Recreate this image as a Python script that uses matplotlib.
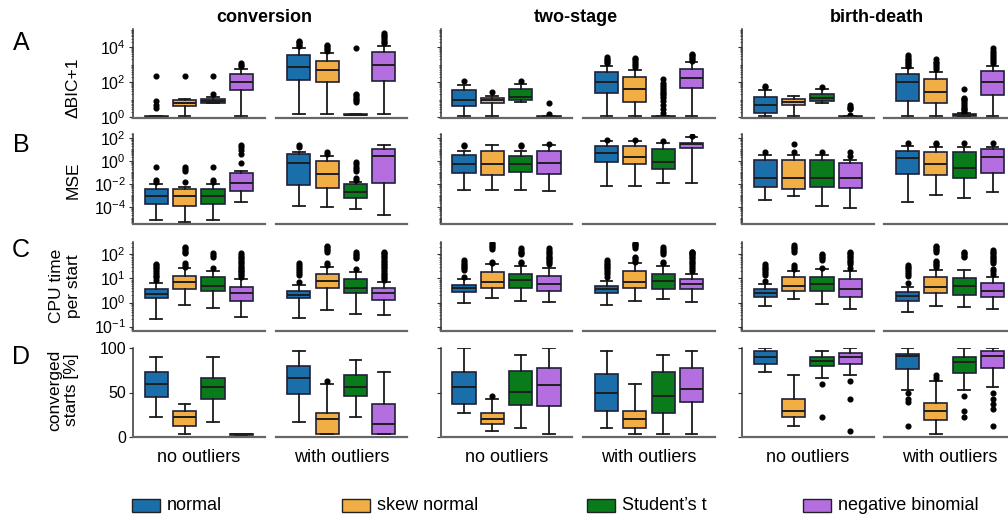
from __future__ import annotations

import matplotlib

matplotlib.use("Agg")
import matplotlib.pyplot as plt
from matplotlib.patches import Rectangle
from matplotlib.ticker import FixedLocator, LogFormatterSciNotation, LogLocator, NullFormatter

plt.rcParams["font.family"] = ["Liberation Sans", "DejaVu Sans"]
plt.rcParams["mathtext.fontset"] = "custom"
plt.rcParams["mathtext.rm"] = "Liberation Sans"
plt.rcParams["mathtext.it"] = "Liberation Sans:italic"
plt.rcParams["mathtext.bf"] = "Liberation Sans:bold"

models = ["conversion", "two-stage", "birth-death"]
scenarios = ["no outliers", "with outliers"]
distributions = ["normal", "skew normal", "Student\u2019s t", "negative binomial"]
colors = ["#1a6fab", "#f0ae45", "#097b1b", "#b56ee0"]

# panel order: conv/no, conv/with, two/no, two/with, bd/no, bd/with
# each box: (whislo, q1, med, q3, whishi)
bic_stats = [
    [(1.0, 1.0, 1.05, 1.1, 1.15), (1.1, 4.4, 6.8, 9.1, 11), (6.5, 6.8, 8.5, 11, 15), (1.1, 34, 104, 307, 590)],
    [(1.5, 140, 700, 3300, 8700), (1.5, 105, 470, 1660, 4500), (1.3, 1.3, 1.4, 1.5, 1.6), (1.5, 123, 1000, 5100, 12000)],
    [(1.1, 4.4, 9.5, 37, 73), (1.1, 6.4, 9, 11.8, 17), (7.4, 9.5, 14, 42, 80), (1.0, 1.0, 1.05, 1.1, 1.15)],
    [(1.1, 23, 104, 380, 870), (1.1, 7.3, 42, 200, 490), (1.0, 1.0, 1.05, 1.1, 1.15), (1.1, 48, 174, 590, 1320)],
    [(1.1, 1.7, 5.2, 15, 35), (1.1, 5.2, 7.4, 10.4, 15.4), (6.4, 8.3, 13, 22, 38), (1.0, 1.0, 1.05, 1.1, 1.15)],
    [(1.1, 8.3, 104, 307, 640), (1.1, 6.2, 28, 153, 380), (1.05, 1.1, 1.3, 1.5, 1.8), (1.1, 18, 104, 410, 870)],
]
bic_fliers = [
    [[3.5, 5, 8, 230], [235], [22, 235], [800, 1000, 1300]],
    [[11000, 13000, 16000, 19000, 22000], [6000, 7500, 9000, 11000, 12500], [7, 9, 11, 14, 18, 22, 8700],
     [16000, 20000, 26000, 33000, 40000, 50000, 60000]],
    [[112], [27], [112], [1.6, 6.8]],
    [[1230, 1500, 1800, 2200, 2700], [700, 900, 1200, 1600, 2000, 2300],
     [1.8, 3, 5, 8, 12, 16, 20, 25, 30, 40, 50, 70, 90, 150], [1700, 2000, 2400, 3000, 3500, 4000]],
    [[50, 64], [], [51], [1.4, 2.8, 3.3, 4, 5.2]],
    [[800, 1000, 1200, 1500, 1800, 2200, 2800, 3600], [550, 700, 900, 1200, 1500, 2000],
     [2, 2.5, 3, 3.5, 4.5, 6, 7.5, 9, 11, 13, 38], [1200, 1600, 2100, 2800, 3600, 4500, 6000, 8700]],
]

mse_stats = [
    [(7.7e-6, 1.9e-4, 8.5e-4, 3.3e-3, 9e-3), (4.8e-6, 1.07e-4, 8e-4, 3.3e-3, 5.6e-3),
     (7.7e-6, 1.9e-4, 8e-4, 3.3e-3, 9e-3), (2.7e-4, 2.3e-3, 0.011, 0.083, 0.14)],
    [(1.1e-4, 7.9e-3, 0.71, 3.9, 6.5), (1e-4, 4.6e-3, 0.072, 1.0, 2.7),
     (7e-5, 5.4e-4, 2e-3, 9.1e-3, 0.015), (1.8e-5, 0.011, 2.7, 10.7, 25)],
    [(2.9e-3, 0.095, 0.55, 3.4, 7.5), (2.9e-3, 0.059, 0.55, 8, 22),
     (2.9e-3, 0.115, 0.51, 2.9, 7.5), (2.3e-3, 0.072, 0.63, 8, 25)],
    [(6.4e-3, 0.87, 4.7, 21, 49), (6.4e-3, 0.55, 2.1, 18, 49),
     (0.011, 0.2, 0.76, 10.7, 36), (0.0126, 13, 29, 40, 110)],
    [(3.8e-4, 5.6e-3, 0.03, 1.2, 3.2), (8.5e-4, 3.7e-3, 0.03, 1.2, 3.2),
     (1.2e-4, 5.6e-3, 0.03, 1.2, 3.2), (8.7e-5, 4.6e-3, 0.03, 0.63, 1.2)],
    [(2.7e-4, 0.068, 1.9, 8, 21), (1e-3, 0.055, 0.51, 5.4, 16),
     (5.4e-4, 0.03, 0.26, 5.4, 16), (2e-3, 0.083, 2.4, 10.7, 17)],
]
mse_fliers = [
    [[0.015, 0.021, 0.32], [0.015, 0.13, 0.2, 0.32], [0.014, 0.021, 0.28], [0.63, 3.9, 9.2, 16, 25]],
    [[16, 22], [4, 6.5], [0.021, 0.032, 0.14, 0.2, 0.3, 0.5, 0.87], []],
    [[18, 25], [], [18, 25], [30]],
    [[62], [62], [50], [140]],
    [[5.4], [6.5, 31], [5.4], [2.7, 6.5]],
    [[40], [28, 40], [40], [40]],
]

cpu_stats = [
    [(0.21, 1.6, 2.2, 3.6, 6.3), (0.8, 3.6, 6.9, 13, 26), (0.58, 3, 4.9, 11, 20), (0.25, 1.2, 2.6, 4.6, 9.1)],
    [(0.22, 1.5, 2.05, 3.1, 5.4), (0.49, 3.9, 7.7, 15, 31), (0.32, 2.6, 4.2, 9.1, 19), (0.3, 1.26, 2.4, 3.9, 7.4)],
    [(0.93, 2.7, 3.9, 5.4, 9.1), (1.6, 3.9, 6.9, 18, 39), (1.2, 4.2, 8.5, 16, 34), (1.05, 3, 5.7, 13, 28)],
    [(0.8, 2.6, 3.6, 4.9, 7.7), (1.15, 3.9, 6.9, 20, 42), (1.35, 3.6, 7.7, 16, 34), (1.02, 3.55, 5.9, 9.1, 16)],
    [(0.72, 1.66, 2.6, 3.5, 5.7), (1.45, 3, 4.9, 11, 21), (0.85, 3, 5.7, 11, 24), (0.56, 1.75, 3.5, 9.5, 20)],
    [(0.42, 1.2, 1.8, 2.8, 4.6), (0.74, 2.6, 4.3, 11, 22), (0.63, 2.05, 4.9, 10.7, 22), (0.52, 1.66, 3, 6.3, 12)],
]
cpu_fliers = [
    [[9, 11, 13, 16, 19, 22, 26, 30, 35, 40], [30, 35, 42, 110, 130, 150, 175, 200], [28, 75, 90, 110],
     [12, 14, 16, 18, 20, 23, 27, 31, 35, 42, 50, 60, 70, 80, 90, 110]],
    [[7.3, 14, 17, 20, 24, 30, 36, 44], [37, 42, 130, 150, 170, 195, 220], [24, 70, 80, 90, 105, 120],
     [9, 10.5, 12, 14, 16, 19, 22, 26, 30, 35, 40, 47, 55, 65, 75, 87, 100, 115, 130]],
    [[12, 22, 26, 30, 35, 40, 48, 58], [45, 50, 170, 200, 230, 265, 300], [45, 50, 100, 115, 130, 155, 180],
     [40, 48, 55, 62, 70, 80, 90, 110, 130, 155, 180]],
    [[12, 15, 18, 22, 26, 30, 35, 40, 48, 58], [50, 60, 70, 80, 190, 220, 250, 280, 300],
     [45, 50, 100, 120, 140, 170, 200], [20, 25, 30, 35, 42, 50, 60, 70, 80, 90, 100, 110, 120, 130]],
    [[7.5, 14, 17, 20, 24, 28, 34, 40], [25, 30, 35, 130, 155, 180, 210, 240], [28, 60, 70, 80, 90, 100],
     [26, 40, 47, 55, 65, 75, 87, 100, 115, 130]],
    [[6.3, 13, 15.5, 18, 22, 26, 31, 37], [30, 35, 40, 47, 55, 120, 145, 170, 195, 220], [75, 87, 100, 115, 130],
     [16, 20, 24, 45, 52, 60, 70, 80, 95, 110, 130, 150]],
]

conv_stats = [
    [(22.8, 44.4, 59.4, 73, 90), (3, 12.7, 22.8, 29.5, 36.6), (16.4, 42.2, 56.3, 66.8, 90), (2.5, 2.7, 3, 3.2, 3.4)],
    [(16.4, 48, 66.4, 79.5, 96.3), (3, 3, 19.8, 26.5, 60), (22.8, 45.9, 56.3, 70.2, 86.2), (3, 3, 14.6, 36.6, 73.1)],
    [(26.5, 36.6, 56.3, 73.1, 100), (6.7, 14.6, 19.8, 26.5, 42.5), (9.7, 35.8, 50.7, 74.2, 92.6), (3, 34.7, 58.2, 78, 100)],
    [(9.7, 29.5, 49.6, 71.3, 96.3), (3, 9.7, 19.8, 29.5, 60), (3, 26.5, 46.3, 73.1, 92.6), (3, 39.6, 53.4, 78, 96.3)],
    [(73.1, 82.5, 90, 96.3, 100), (12.7, 22.8, 29.5, 42.5, 69.4), (66.4, 79.5, 85.1, 90, 96.3), (69.4, 82.5, 90, 94.8, 100)],
    [(52.6, 76.1, 90.7, 93.7, 100), (3, 19, 29.5, 37.7, 62.7), (52.6, 72.4, 84.3, 90, 100), (56.3, 77.6, 91, 96.3, 100)],
]
conv_fliers = [
    [[], [], [], []],
    [[], [63], [], []],
    [[], [46.3], [], []],
    [[], [], [], []],
    [[], [], [59.4, 22.8], [62.7, 42.5, 6.7]],
    [[48.9, 42.5, 38.8, 12.7], [66.4, 69.4], [46.3, 29.5, 22.8], [48.9, 42.8, 37, 32, 12.7]],
]

FIG_W, FIG_H = 1008, 517
AX_LEFT = [133, 275.6, 440.7, 583.3, 742, 884.3]
AX_WIDTH = 131.5
ROW_TOP = [29, 134, 242, 348]
ROW_BOTTOM = [118, 224, 331, 437]


def fx(px: float) -> float:
    return px / FIG_W


def fy(px: float) -> float:
    return 1 - px / FIG_H


def draw_boxes(ax: plt.Axes, stats: list, fliers: list) -> None:
    boxes = [
        {"whislo": s[0], "q1": s[1], "med": s[2], "q3": s[3], "whishi": s[4], "fliers": f}
        for s, f in zip(stats, fliers)
    ]
    res = ax.bxp(
        boxes,
        positions=[1, 2, 3, 4],
        widths=0.82,
        patch_artist=True,
        showfliers=True,
        boxprops=dict(edgecolor="#20203a", linewidth=1.2),
        medianprops=dict(color="#1e1e1e", linewidth=1.4),
        whiskerprops=dict(color="#1a1a1a", linewidth=1.3),
        capprops=dict(color="#1a1a1a", linewidth=1.3),
        flierprops=dict(marker="o", markerfacecolor="black", markeredgecolor="black",
                        markersize=3.4, linestyle="none"),
    )
    for patch, color in zip(res["boxes"], colors):
        patch.set_facecolor(color)


rows = [
    ("\u0394BIC+1", bic_stats, bic_fliers, "log", (0.9, 1.07e5), [1, 1e2, 1e4]),
    ("MSE", mse_stats, mse_fliers, "log", (3.2e-6, 2.2e2), [1e-4, 1e-2, 1, 1e2]),
    ("CPU time\nper start", cpu_stats, cpu_fliers, "log", (0.066, 324), [0.1, 1, 10, 100]),
    ("converged\nstarts [%]", conv_stats, conv_fliers, "linear", (0, 100), [0, 50, 100]),
]

fig = plt.figure(figsize=(FIG_W / 100, FIG_H / 100), dpi=100)

for r, (ylabel, stats, fliers, scale, ylim, ticks) in enumerate(rows):
    height = ROW_BOTTOM[r] - ROW_TOP[r]
    for c in range(6):
        ax = fig.add_axes([fx(AX_LEFT[c]), fy(ROW_BOTTOM[r]), fx(AX_WIDTH), height / FIG_H])
        ax.set_yscale(scale)
        draw_boxes(ax, stats[c], fliers[c])
        ax.set_xlim(0.18, 4.82)
        ax.set_ylim(*ylim)
        ax.yaxis.set_major_locator(FixedLocator(ticks))
        if scale == "log":
            ax.yaxis.set_major_formatter(LogFormatterSciNotation())
            ax.yaxis.set_minor_locator(LogLocator(base=10, subs=[1, 2, 3, 4, 5, 6, 7, 8, 9], numticks=40))
            ax.yaxis.set_minor_formatter(NullFormatter())
        for side in ["top", "right"]:
            ax.spines[side].set_visible(False)
        ax.spines["bottom"].set_color("#666666")
        ax.spines["bottom"].set_linewidth(1.6)
        ax.tick_params(axis="x", bottom=False, labelbottom=False)
        if c % 2 == 0:
            ax.spines["left"].set_color("#333333")
            ax.spines["left"].set_linewidth(1.1)
            ax.tick_params(axis="y", which="major", direction="out", length=3, width=0.8,
                           color="#333333", labelsize=11.5, pad=2, labelleft=(c == 0))
            ax.tick_params(axis="y", which="minor", direction="out", length=1.5, width=0.6,
                           color="#555555", labelleft=False)
        else:
            ax.spines["left"].set_visible(False)
            ax.tick_params(axis="y", which="both", left=False, labelleft=False)
        ax.set_facecolor("none")

# row letters and y labels
letter_y = [43, 145, 250, 357]
ylabel_y = [88, 180, 286, 390]
ylabel_x = [73, 73, 65, 63]
for r, (ylabel, *_rest) in enumerate(rows):
    fig.text(fx(21), fy(letter_y[r]), "ABCD"[r], fontsize=18, ha="center", va="center")
    fig.text(fx(ylabel_x[r]), fy(ylabel_y[r]), ylabel, fontsize=12.5, rotation=90,
             ha="center", va="center", multialignment="center", linespacing=1.1)

# column titles
for name, xc in zip(models, [264, 575.5, 877]):
    fig.text(fx(xc), fy(17), name, fontsize=13, fontweight="bold", ha="center", va="center")

# scenario labels under each panel
for c in range(6):
    fig.text(fx(AX_LEFT[c] + AX_WIDTH / 2), fy(457), scenarios[c % 2], fontsize=13,
             ha="center", va="center")

# legend
for name, color, x0 in zip(distributions, colors, [132, 342, 587, 803]):
    fig.add_artist(Rectangle((fx(x0), fy(512)), fx(28), 13 / FIG_H, transform=fig.transFigure,
                             facecolor=color, edgecolor="#222222", linewidth=1.0))
    fig.text(fx(x0 + 35), fy(505), name, fontsize=13, ha="left", va="center")

fig.savefig("out.png", dpi=100)
